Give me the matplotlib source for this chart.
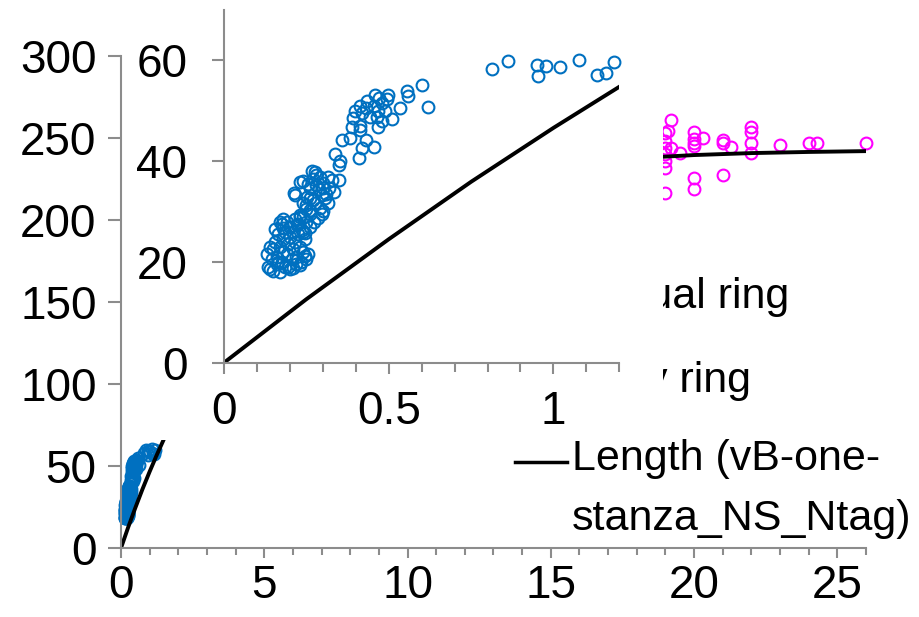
import matplotlib
matplotlib.use("Agg")
import matplotlib.pyplot as plt
from matplotlib.lines import Line2D
from matplotlib.ticker import MultipleLocator

plt.rcParams['font.family'] = ['Liberation Sans', 'DejaVu Sans']

# ---------------- data ----------------
series_names = ['Annual ring', 'Daily ring', 'Length (vB-one-', 'stanza_NS_Ntag)']

# Daily ring (age in years, length)
daily_age = [
    0.814, 0.861, 0.950, 0.952, 0.979, 1.019, 1.077, 1.131, 1.160, 1.185,
    0.601, 0.618, 0.555, 0.560, 0.533, 0.499, 0.494, 0.459, 0.434, 0.413,
    0.398, 0.454, 0.469, 0.489, 0.510, 0.464, 0.444, 0.393, 0.413, 0.469,
    0.388, 0.413, 0.358, 0.383, 0.432, 0.454, 0.418, 0.337, 0.353, 0.350,
    0.411, 0.470, 0.480, 0.430, 0.420, 0.480,
    0.211, 0.216, 0.251, 0.267, 0.277, 0.241, 0.231, 0.256, 0.292, 0.317,
    0.327, 0.348, 0.287, 0.297, 0.307, 0.317, 0.333, 0.277, 0.261, 0.241,
    0.297, 0.231, 0.272, 0.170, 0.180, 0.200, 0.221, 0.236, 0.246,
    0.260, 0.270, 0.280, 0.300, 0.310, 0.290, 0.300, 0.285, 0.270, 0.260,
    0.250, 0.240, 0.280, 0.300, 0.320,
    0.130, 0.135, 0.140, 0.145, 0.150, 0.150, 0.155, 0.160, 0.160, 0.165,
    0.170, 0.170, 0.175, 0.175, 0.180, 0.180, 0.185, 0.185, 0.190, 0.190,
    0.195, 0.200, 0.200, 0.200, 0.205, 0.210, 0.210, 0.215, 0.215, 0.220,
    0.220, 0.225, 0.225, 0.230, 0.230, 0.235, 0.240, 0.240, 0.245, 0.250,
    0.250, 0.255, 0.260, 0.260, 0.165, 0.140, 0.155, 0.180, 0.195, 0.210,
    0.230, 0.250, 0.246,
]
daily_len = [
    58.2, 59.8, 59.1, 57.0, 58.9, 58.6, 60.1, 57.1, 57.5, 59.6,
    55.1, 50.8, 53.9, 53.0, 50.6, 53.2, 52.3, 53.2, 52.0, 51.0,
    50.0, 51.0, 50.0, 50.0, 48.4, 48.7, 48.7, 48.5, 47.0, 46.7,
    46.7, 46.1, 44.1, 44.6, 44.1, 42.9, 42.6, 41.5, 40.0, 39.3,
    40.7, 52.5, 51.5, 50.5, 49.5, 48.0,
    33.6, 33.2, 32.9, 38.1, 37.8, 36.1, 35.9, 35.5, 36.9, 36.9,
    36.2, 36.2, 34.5, 33.2, 32.6, 31.6, 33.9, 31.6, 30.3, 29.0,
    29.6, 29.3, 28.0, 28.0, 26.7, 27.0, 27.3, 26.4, 25.7,
    34.7, 36.5, 35.2, 34.7, 33.5, 30.7, 30.2, 28.7, 32.2, 32.7,
    31.2, 31.7, 37.2, 35.7, 34.7,
    21.5, 19.0, 18.5, 20.5, 22.5, 18.2, 24.0, 19.5, 21.0, 25.5,
    18.0, 23.0, 20.0, 27.5, 22.0, 24.5, 19.0, 26.0, 21.5, 28.0,
    23.5, 18.5, 25.0, 27.0, 20.5, 22.5, 26.0, 24.0, 28.5, 19.5,
    21.0, 25.5, 27.5, 23.0, 29.0, 20.0, 26.0, 22.0, 24.5, 28.0,
    30.5, 21.5, 29.5, 27.0, 20.0, 23.0, 26.5, 28.5, 19.0, 18.8,
    19.3, 20.5, 21.1,
]

# Annual ring (age in years, length)
annual_age = [19.0, 19.0, 19.0, 19.0, 19.0, 19.0, 19.0, 19.2, 19.2, 19.5,
              20.0, 20.0, 20.0, 20.0, 20.0, 20.0, 20.3, 21.0, 21.0, 21.0,
              21.3, 22.0, 22.0, 22.0, 22.0, 23.0, 24.0, 24.3, 26.0, 19.1]
annual_len = [252.9, 248.0, 244.0, 240.0, 236.0, 232.0, 216.6, 261.0, 243.7, 241.0,
              253.5, 249.2, 246.8, 245.0, 225.4, 218.7, 249.8, 248.8, 246.8, 227.4,
              244.7, 256.9, 253.9, 247.1, 240.7, 245.7, 246.8, 246.8, 246.8, 254.0]

# von Bertalanffy fitted length curve
vb_age = [0, 0.25, 0.5, 0.75, 1.0, 1.25, 1.5, 2, 3, 4, 5, 6, 8, 10, 12, 14, 16, 18, 20, 22, 24, 26]
vb_len = [0, 12.6, 24.5, 35.9, 46.6, 56.8, 66.5, 84.3, 114.7, 139.3, 159.2, 175.3,
          198.8, 214.1, 224.1, 230.7, 235.0, 237.7, 239.6, 240.8, 241.5, 242.0]

main_xticks = [0, 5, 10, 15, 20, 25]
main_xlabels = ['0', '5', '10', '15', '20', '25']
main_yticks = [0, 50, 100, 150, 200, 250, 300]
main_ylabels = ['0', '50', '100', '150', '200', '250', '300']
inset_xticks = [0, 0.5, 1]
inset_xlabels = ['0', '0.5', '1']
inset_yticks = [0, 20, 40, 60]
inset_ylabels = ['0', '20', '40', '60']

# ---------------- style ----------------
W, H, DPI = 920, 617, 100
BLUE = '#0070C0'
MAGENTA = '#FF00FF'
GRAY = '#8c8c8c'
FS = 33
FS_LEG = 31
MS = 8.5
MEW = 1.5

fig = plt.figure(figsize=(W / DPI, H / DPI), dpi=DPI)
fig.patch.set_facecolor('white')


def fx(px):
    return px / W


def fy(py):
    return 1 - py / H


def style_axes(a):
    for s in ['top', 'right']:
        a.spines[s].set_visible(False)
    for s in ['left', 'bottom']:
        a.spines[s].set_color(GRAY)
        a.spines[s].set_linewidth(1.5)
    a.set_facecolor('none')


# ---------------- main axes ----------------
ax = fig.add_axes([fx(121), fy(548), fx(866) - fx(121), fy(56) - fy(548)], zorder=0)
style_axes(ax)
ax.plot(annual_age, annual_len, linestyle='none', marker='o', ms=MS, mfc='none',
        mec=MAGENTA, mew=MEW, clip_on=False)
ax.plot(daily_age, daily_len, linestyle='none', marker='o', ms=MS, mfc='none',
        mec=BLUE, mew=MEW, clip_on=False)
ax.plot(vb_age, vb_len, color='black', lw=2.8, solid_capstyle='butt')
ax.set_xlim(0, 26)
ax.set_ylim(0, 300)
ax.set_xticks(main_xticks)
ax.set_xticklabels(main_xlabels)
ax.set_yticks(main_yticks)
ax.set_yticklabels(main_ylabels)
ax.xaxis.set_minor_locator(MultipleLocator(1))
ax.tick_params(axis='x', which='major', direction='out', length=7.5, width=1.5,
               color=GRAY, labelsize=FS, pad=4)
ax.tick_params(axis='x', which='minor', direction='out', length=5, width=1.5, color=GRAY)
ax.tick_params(axis='y', which='major', direction='out', length=9.6, width=1.5,
               color=GRAY, labelsize=FS, pad=8)

# legend (drawn as part of the main chart, partly covered by the inset chart)
ax.text(fx(572), fy(308), series_names[0], transform=fig.transFigure,
        fontsize=FS_LEG, va='baseline', ha='left')
ax.text(fx(572), fy(392), series_names[1], transform=fig.transFigure,
        fontsize=FS_LEG, va='baseline', ha='left')
ax.text(fx(572), fy(470), series_names[2], transform=fig.transFigure,
        fontsize=FS_LEG, va='baseline', ha='left')
ax.text(fx(572), fy(530), series_names[3], transform=fig.transFigure,
        fontsize=FS_LEG, va='baseline', ha='left')
ax.add_artist(Line2D([fx(515), fx(567)], [fy(462), fy(462)], color='black', lw=2.5,
                     transform=fig.transFigure, clip_on=False))

# ---------------- inset chart background ----------------
bg = fig.add_axes([fx(128), fy(440), fx(663) - fx(128), 1 - fy(440)], zorder=1)
bg.set_facecolor('white')
bg.set_xticks([])
bg.set_yticks([])
for s in bg.spines.values():
    s.set_visible(False)

# ---------------- inset axes ----------------
ins = fig.add_axes([fx(224), fy(362.7), fx(619.3) - fx(224), fy(10) - fy(362.7)], zorder=2)
style_axes(ins)
ins.plot(daily_age, daily_len, linestyle='none', marker='o', ms=MS, mfc='none',
         mec=BLUE, mew=MEW, clip_on=False)
ins.plot(vb_age, vb_len, color='black', lw=2.8, solid_capstyle='butt')
ins.set_xlim(0, 1.2)
ins.set_ylim(0, 70)
ins.set_xticks(inset_xticks)
ins.set_xticklabels(inset_xlabels)
ins.set_yticks(inset_yticks)
ins.set_yticklabels(inset_ylabels)
ins.xaxis.set_minor_locator(MultipleLocator(0.1))
ins.tick_params(axis='x', which='major', direction='out', length=8, width=1.5,
                color=GRAY, labelsize=FS, pad=12)
ins.tick_params(axis='x', which='minor', direction='out', length=6.5, width=1.5, color=GRAY)
ins.tick_params(axis='y', which='major', direction='out', length=8.4, width=1.5,
                color=GRAY, labelsize=FS, pad=18)

fig.savefig('out.png', dpi=DPI, facecolor='white')
